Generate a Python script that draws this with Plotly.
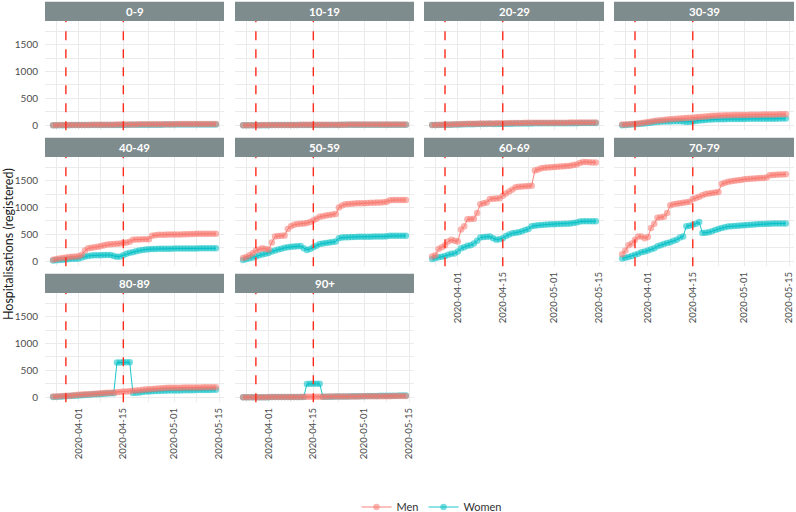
import plotly.graph_objects as go
import pandas as pd

# ---------------- data ----------------
dates = pd.date_range("2020-03-24", "2020-05-14").strftime("%Y-%m-%d").tolist()
age_groups = ["0-9", "10-19", "20-29", "30-39", "40-49", "50-59", "60-69", "70-79", "80-89", "90+"]
x_ticks = ["2020-04-01", "2020-04-15", "2020-05-01", "2020-05-15"]
x_minor = ["2020-03-25", "2020-04-08", "2020-04-23", "2020-05-08"]
y_ticks = [0, 500, 1000, 1500]
y_minor = [250, 750, 1250, 1750]
event_dates = ["2020-03-28", "2020-04-15"]

men_0_9 = [2,2,3,3,4,4,5,5,6,6,7,7,8,8,9,9,10,10,11,11,12,12,13,14,15,16,16,17,17,18,18,19,19,20,20,20,21,21,21,22,22,22,23,23,23,24,24,24,25,25,25,25]
women_0_9 = [1,1,1,2,2,2,3,3,3,4,4,4,5,5,5,6,6,6,7,6,6,6,7,7,8,8,9,9,9,10,10,10,11,11,11,12,12,12,12,13,13,13,13,14,14,14,14,14,15,15,15,15]
men_10_19 = [0,0,1,1,2,2,3,3,4,4,5,5,6,6,6,7,7,7,8,8,8,9,9,9,10,10,10,10,11,11,11,11,11,12,12,12,12,12,12,13,13,13,13,13,13,13,14,14,14,14,14,14]
women_10_19 = [0,0,0,1,1,1,2,2,2,3,3,3,4,4,4,5,5,5,5,4,4,4,5,5,6,6,6,7,7,7,7,8,8,8,8,8,9,9,9,9,9,9,10,10,10,10,10,10,10,10,10,10]
men_20_29 = [5,6,8,10,12,14,16,18,20,22,24,26,28,29,30,31,32,33,34,35,36,37,38,39,40,41,42,43,44,45,46,46,47,47,47,48,48,48,48,49,49,49,49,50,50,50,50,50,51,51,51,51]
women_20_29 = [3,4,5,6,8,10,11,12,14,15,17,18,20,21,22,23,24,25,26,24,22,23,25,27,29,30,31,32,33,34,35,35,36,36,36,37,37,37,38,38,38,38,39,39,39,39,40,40,40,40,40,40]
men_30_39 = [12,15,20,25,30,35,40,50,60,70,80,87,95,100,105,110,115,120,128,132,136,140,142,148,155,160,165,170,175,178,180,183,185,187,188,189,190,191,192,193,194,195,196,197,198,199,200,201,202,203,204,205]
women_30_39 = [2,5,10,15,20,25,30,35,40,45,55,62,65,68,70,72,74,75,76,70,62,65,72,80,90,95,100,105,108,110,112,113,114,115,116,117,117,118,118,119,119,120,120,121,121,122,122,123,123,124,124,124]
men_40_49 = [30,40,50,60,70,80,85,90,95,120,200,240,250,260,270,285,300,310,315,320,325,330,340,350,365,400,405,405,408,410,412,475,485,495,495,495,496,497,498,499,500,502,504,506,508,510,512,512,512,512,512,512]
women_40_49 = [15,20,25,30,35,40,45,48,50,70,90,100,105,110,112,114,115,115,115,100,85,90,110,140,158,170,185,200,210,220,225,228,230,232,233,234,235,235,236,236,237,237,238,238,239,239,240,240,240,240,240,240]
men_50_59 = [60,80,110,150,200,220,240,230,220,350,460,470,475,480,600,650,680,695,700,705,710,730,765,790,830,840,850,860,870,880,1000,1040,1060,1065,1070,1075,1078,1080,1082,1085,1088,1090,1092,1095,1100,1110,1135,1140,1140,1140,1140,1140]
women_50_59 = [25,40,55,70,90,110,125,140,155,180,200,220,235,250,260,270,275,280,285,240,210,230,260,290,320,330,340,350,360,367,430,440,445,448,450,452,454,455,456,457,458,459,460,460,462,465,475,475,475,475,475,475]
men_60_69 = [90,110,230,260,300,370,400,380,370,590,650,780,785,790,900,1060,1080,1095,1160,1165,1170,1175,1220,1260,1300,1335,1380,1385,1390,1395,1400,1405,1690,1710,1730,1740,1745,1750,1755,1760,1765,1770,1775,1780,1790,1800,1830,1850,1850,1845,1840,1840]
women_60_69 = [40,55,75,85,100,120,140,145,180,240,260,290,300,330,380,440,450,455,460,430,400,410,430,470,500,520,530,540,560,580,600,650,660,670,675,680,685,688,690,692,694,696,700,705,710,720,740,745,745,745,745,745]
men_70_79 = [130,200,300,330,400,460,460,430,450,620,700,810,820,830,900,1045,1060,1070,1080,1090,1100,1110,1160,1180,1200,1230,1250,1260,1270,1280,1290,1440,1460,1480,1490,1500,1510,1515,1525,1530,1535,1540,1545,1550,1550,1560,1600,1605,1610,1615,1615,1620]
women_70_79 = [50,65,80,100,120,140,170,180,200,225,240,280,300,320,340,355,380,400,440,460,650,660,680,700,730,525,530,540,560,580,600,620,635,645,650,655,660,665,670,675,680,685,690,692,695,697,700,702,703,704,705,705]
men_80_89 = [12,15,18,22,26,30,35,40,45,50,54,58,62,66,70,74,78,82,85,87,95,100,105,108,110,120,125,130,138,145,150,155,160,165,170,173,175,176,177,178,179,180,181,182,182,183,184,185,185,186,186,186]
women_80_89 = [5,8,11,14,18,22,26,30,34,38,42,46,50,54,58,62,66,70,73,75,645,648,650,650,650,80,85,90,100,105,108,112,115,118,120,122,124,125,126,127,128,129,130,131,132,133,134,135,136,137,138,140]
men_90p = [0,0,1,1,1,2,2,2,3,3,3,4,4,5,5,6,6,7,7,8,8,9,9,10,10,11,11,12,12,13,13,14,14,15,15,16,16,17,17,18,18,19,19,20,20,21,21,22,22,23,24,25]
women_90p = [0,0,0,1,1,1,2,2,2,3,3,3,4,4,4,5,5,5,6,6,248,250,250,250,250,8,9,10,11,12,13,14,15,16,17,18,19,20,21,22,23,24,25,26,27,28,29,30,30,31,31,32]

men = [men_0_9, men_10_19, men_20_29, men_30_39, men_40_49, men_50_59, men_60_69, men_70_79, men_80_89, men_90p]
women = [women_0_9, women_10_19, women_20_29, women_30_39, women_40_49, women_50_59, women_60_69, women_70_79, women_80_89, women_90p]

# ---------------- layout geometry ----------------
W, H = 796, 512
col_px = [(45, 224), (235, 414), (424, 604), (614, 794)]
row_top = [21, 157, 293]
plot_h = 109.2
strip_h = 19.3
FONT = "Lato"
MEN_C = "#F8766D"
WOMEN_C = "#00BFC4"
GRID = "#EBEBEB"
STRIP = "#7F8C8D"

x_range = ["2020-03-21 11:00", "2020-05-16 13:00"]
y_range = [-92, 1941]

fig = go.Figure()
shapes = []
annotations = []
layout_axes = {}

for i, ag in enumerate(age_groups):
    r, c = divmod(i, 4)
    n = i + 1
    xa = "x" if n == 1 else f"x{n}"
    ya = "y" if n == 1 else f"y{n}"
    fig.add_trace(go.Scatter(
        x=dates, y=women[i], xaxis=xa, yaxis=ya, mode="lines+markers",
        name="Women", legendgroup="Women", showlegend=(i == 0), legendrank=2,
        line=dict(color=WOMEN_C, width=0.9),
        marker=dict(color="rgba(0,191,196,0.55)", size=6.5)))
    fig.add_trace(go.Scatter(
        x=dates, y=men[i], xaxis=xa, yaxis=ya, mode="lines+markers",
        name="Men", legendgroup="Men", showlegend=(i == 0), legendrank=1,
        line=dict(color=MEN_C, width=0.9),
        marker=dict(color="rgba(248,118,109,0.55)", size=6.5)))

    x0, x1 = col_px[c]
    yt = row_top[r]
    yb = yt + plot_h
    show_x = i in (6, 7, 8, 9)
    show_y = c == 0
    layout_axes["xaxis" if n == 1 else f"xaxis{n}"] = dict(
        domain=[x0 / W, x1 / W], anchor=ya, type="date", range=x_range,
        tickmode="array", tickvals=x_ticks, ticktext=x_ticks,
        showticklabels=show_x, tickangle=-90, ticks="", automargin=False,
        tickfont=dict(family=FONT, size=9.5, color="#4D4D4D"),
        showgrid=True, gridcolor=GRID, gridwidth=1, zeroline=False, showline=False,
        minor=dict(tickvals=x_minor, showgrid=True, gridcolor=GRID, gridwidth=0.6, ticks=""),
        ticklabelstandoff=3)
    layout_axes["yaxis" if n == 1 else f"yaxis{n}"] = dict(
        domain=[1 - yb / H, 1 - yt / H], anchor=xa, range=y_range,
        tickmode="array", tickvals=y_ticks, showticklabels=show_y, ticks="", automargin=False,
        tickfont=dict(family=FONT, size=10, color="#4D4D4D"),
        showgrid=True, gridcolor=GRID, gridwidth=1, zeroline=False, showline=False,
        minor=dict(tickvals=y_minor, showgrid=True, gridcolor=GRID, gridwidth=0.6, ticks=""),
        ticklabelstandoff=6)

    # strip
    shapes.append(dict(type="rect", xref="paper", yref="paper",
                       x0=x0 / W, x1=x1 / W, y0=1 - yt / H, y1=1 - (yt - strip_h) / H,
                       fillcolor=STRIP, line=dict(width=0), layer="below"))
    annotations.append(dict(text=f"<b>{ag}</b>", xref="paper", yref="paper",
                            x=(x0 + x1) / 2 / W, y=1 - (yt - strip_h / 2) / H,
                            xanchor="center", yanchor="middle", showarrow=False,
                            font=dict(family=FONT, size=11.5, color="white")))
    # event lines
    for d in event_dates:
        shapes.append(dict(type="line", xref=xa, yref=f"{ya} domain",
                           x0=d, x1=d, y0=0, y1=1,
                           line=dict(color="#FF2A1A", width=1.4, dash="dash")))

annotations.append(dict(text="Hospitalisations (registered)", xref="paper", yref="paper",
                        x=8 / W, y=1 - 244 / H, xanchor="center", yanchor="middle",
                        textangle=-90, showarrow=False,
                        font=dict(family=FONT, size=12.5, color="#1A1A1A")))

fig.update_layout(
    width=W, height=H,
    margin=dict(l=0, r=0, t=0, b=0, autoexpand=False),
    paper_bgcolor="white", plot_bgcolor="white",
    font=dict(family=FONT),
    shapes=shapes, annotations=annotations,
    showlegend=True,
    legend=dict(orientation="h", x=432 / W, xanchor="center", y=1 - 507 / H, yanchor="middle",
                font=dict(family=FONT, size=11, color="#333333"), bgcolor="rgba(0,0,0,0)",
                traceorder="normal"),
    **layout_axes,
)

fig.write_html("out.html", config={"displayModeBar": False},
               post_script="document.body.style.margin='0';document.body.style.overflow='hidden';")
